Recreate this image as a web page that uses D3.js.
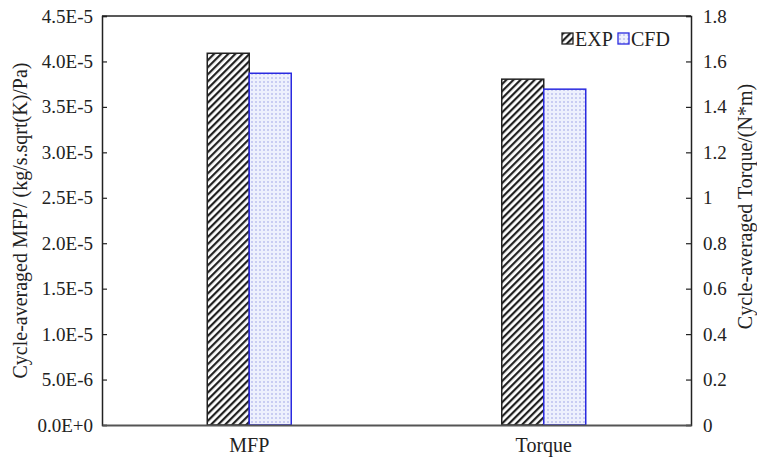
<!DOCTYPE html>
<html>
<head>
<meta charset="utf-8">
<script src="https://cdn.jsdelivr.net/npm/d3@7"></script>
<style>
  body { margin: 0; background: #fff; }
  svg text { font-family: "Liberation Serif", Tinos, "Times New Roman", Times, "DejaVu Serif", serif !important; fill: #222; }
</style>
</head>
<body>
<script>
// values
const categories = ['MFP', 'Torque'];
const series = ['EXP', 'CFD'];
const mfpValues = [4.09e-5, 3.87e-5];      // left axis
const torqueValues = [1.522, 1.478];       // right axis
const leftTicks = [0, 5e-6, 1e-5, 1.5e-5, 2e-5, 2.5e-5, 3e-5, 3.5e-5, 4e-5, 4.5e-5];
const leftTickLabels = ['0.0E+0', '5.0E-6', '1.0E-5', '1.5E-5', '2.0E-5', '2.5E-5', '3.0E-5', '3.5E-5', '4.0E-5', '4.5E-5'];
const rightTicks = [0, 0.2, 0.4, 0.6, 0.8, 1, 1.2, 1.4, 1.6, 1.8];

const W = 757, H = 457;
const margin = { top: 16, right: 66, bottom: 32, left: 102 };
const width = W - margin.left - margin.right;
const height = H - margin.top - margin.bottom;

const svg = d3.select('body').append('svg')
  .attr('width', W)
  .attr('height', H);

const defs = svg.append('defs');
const hatch = defs.append('pattern')
  .attr('id', 'hatch')
  .attr('patternUnits', 'userSpaceOnUse')
  .attr('width', 5).attr('height', 5)
  .attr('patternTransform', 'rotate(45)');
hatch.append('rect').attr('width', 5).attr('height', 5).attr('fill', '#fff');
hatch.append('rect').attr('width', 2.2).attr('height', 5).attr('fill', '#222');

const dots = defs.append('pattern')
  .attr('id', 'dots')
  .attr('patternUnits', 'userSpaceOnUse')
  .attr('width', 4).attr('height', 4);
dots.append('rect').attr('width', 4).attr('height', 4).attr('fill', '#eef0fd');
dots.append('rect').attr('x', 1).attr('y', 1).attr('width', 2).attr('height', 2).attr('fill', '#c9ccf2');

const fills = { EXP: 'url(#hatch)', CFD: 'url(#dots)' };
const strokes = { EXP: '#222', CFD: '#2a2ae0' };

const g = svg.append('g')
  .attr('transform', `translate(${margin.left},${margin.top})`);

const x = d3.scaleBand().domain(categories).range([0, width]);
const xs = d3.scaleBand().domain(series).range([x.bandwidth() / 2 - 42, x.bandwidth() / 2 + 42]);
const yL = d3.scaleLinear().domain([0, 4.5e-5]).range([height, 0]);
const yR = d3.scaleLinear().domain([0, 1.8]).range([height, 0]);

// bars
const rows = [
  { cat: 'MFP', scale: yL, vals: mfpValues },
  { cat: 'Torque', scale: yR, vals: torqueValues }
];
rows.forEach(r => {
  g.append('g')
    .selectAll('rect')
    .data(series.map((s, i) => ({ s, v: r.vals[i] })))
    .join('rect')
    .attr('x', d => x(r.cat) + xs(d.s))
    .attr('width', xs.bandwidth())
    .attr('y', d => r.scale(d.v))
    .attr('height', d => height - r.scale(d.v))
    .attr('fill', d => fills[d.s])
    .attr('stroke', d => strokes[d.s])
    .attr('stroke-width', 1.5);
});

// axes
const left = g.append('g')
  .call(d3.axisLeft(yL).tickValues(leftTicks).tickSize(-5).tickPadding(9)
    .tickFormat((d, i) => leftTickLabels[i]));
const right = g.append('g')
  .attr('transform', `translate(${width},0)`)
  .call(d3.axisRight(yR).tickValues(rightTicks).tickSize(-5).tickPadding(12)
    .tickFormat(d => d3.format('')(+d.toFixed(1))));
[left, right].forEach(a => {
  a.attr('font-family', null);
  a.select('.domain').attr('stroke', '#222').attr('stroke-width', 1.5);
  a.selectAll('.tick line').attr('stroke', '#222').attr('stroke-width', 1.2);
  a.selectAll('.tick text').attr('font-size', 19).attr('fill', '#222');
});
right.selectAll('.tick text').attr('text-anchor', 'start');

const bottom = g.append('g')
  .attr('transform', `translate(0,${height})`)
  .call(d3.axisBottom(x).tickSize(0).tickPadding(13));
bottom.attr('font-family', null);
bottom.select('.domain').attr('stroke', '#555').attr('stroke-width', 2);
bottom.selectAll('.tick text').attr('font-size', 20).attr('fill', '#222');

// top frame line
g.append('line')
  .attr('x1', 0).attr('x2', width)
  .attr('y1', 0).attr('y2', 0)
  .attr('stroke', '#222').attr('stroke-width', 1.5);

// axis titles
svg.append('text')
  .attr('transform', `translate(27,${margin.top + height / 2}) rotate(-90)`)
  .attr('text-anchor', 'middle')
  .attr('font-size', 20)
  .text('Cycle-averaged MFP/ (kg/s.sqrt(K)/Pa)');
svg.append('text')
  .attr('transform', `translate(752,${margin.top + height / 2 - 14}) rotate(-90)`)
  .attr('text-anchor', 'middle')
  .attr('font-size', 20)
  .text('Cycle-averaged Torque/(N*m)');

// legend
const legend = svg.append('g').attr('transform', 'translate(562,33)');
const items = legend.selectAll('g')
  .data(series)
  .join('g')
  .attr('transform', (d, i) => `translate(${i * 56},0)`);
items.append('rect')
  .attr('width', 11).attr('height', 11)
  .attr('fill', d => fills[d])
  .attr('stroke', d => strokes[d])
  .attr('stroke-width', 1.3);
items.append('text')
  .attr('x', 13).attr('y', 13)
  .attr('font-size', 20)
  .text(d => d);
</script>
</body>
</html>
